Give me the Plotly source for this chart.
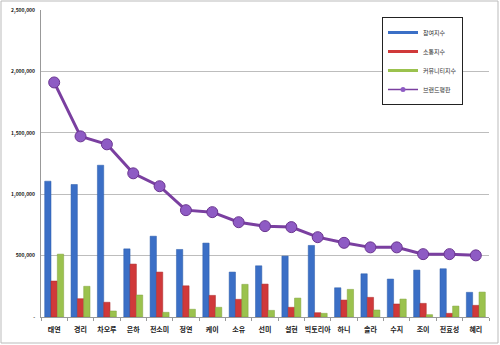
import plotly.graph_objects as go

categories = ["태연", "경리", "차오루", "은하", "전소미", "정연", "케이", "소유", "선미",
              "설현", "빅토리아", "하니", "솔라", "수지", "조이", "전효성", "혜리"]
participation = [1106000, 1079000, 1236000, 555000, 658000, 550000, 602000, 366000, 417000,
                 496000, 583000, 238000, 352000, 309000, 382000, 393000, 201000]
communication = [293000, 149000, 120000, 431000, 366000, 254000, 176000, 144000, 268000,
                 79000, 35000, 138000, 160000, 106000, 111000, 30000, 95000]
community = [512000, 250000, 49000, 179000, 38000, 63000, 79000, 266000, 54000,
             154000, 30000, 225000, 57000, 146000, 19000, 89000, 203000]
brand = [1910000, 1471000, 1406000, 1170000, 1065000, 870000, 854000, 772000, 740000,
         732000, 650000, 604000, 567000, 567000, 512000, 512000, 502000]
series_names = ["참여지수", "소통지수", "커뮤니티지수", "브랜드평판"]
ytick_vals = [0, 500000, 1000000, 1500000, 2000000, 2500000]
ytick_text = ["-", "500,000", "1,000,000", "1,500,000", "2,000,000", "2,500,000"]

font = "Noto Sans CJK KR"
colors = ["#3B6FC6", "#D0393A", "#9BC24E"]
edges = ["#2A5AA8", "#A82828", "#7FA03A"]
fig = go.Figure()
for vals, nm, c, e in zip([participation, communication, community], series_names[:3], colors, edges):
    fig.add_trace(go.Bar(x=categories, y=vals, name=nm, showlegend=False,
                         marker=dict(color=c, line=dict(color=e, width=0.5))))
fig.add_trace(go.Scatter(x=categories, y=brand, name=series_names[3], mode="lines+markers",
                         showlegend=False,
                         line=dict(color="#7A3FA0", width=3),
                         marker=dict(size=11, color="#8E5BC4", line=dict(color="#6A3590", width=1))))
# legend swatches (Excel-style short lines)
for nm, c in zip(series_names[:3], colors):
    fig.add_trace(go.Scatter(x=[None], y=[None], name=nm, mode="lines",
                             line=dict(color=c, width=3)))
fig.add_trace(go.Scatter(x=[None], y=[None], name=series_names[3], mode="lines+markers",
                         line=dict(color="#7A3FA0", width=1.5),
                         marker=dict(size=5, color="#8E5BC4")))

L, R, T, B = 41, 11, 10, 28
W, H = 500, 345
pw, ph = W - L - R, H - T - B
fig.update_layout(
    width=W, height=H, margin=dict(l=L, r=R, t=T, b=B),
    paper_bgcolor="white", plot_bgcolor="white",
    barmode="group", bargap=0.28, bargroupgap=0.0,
    font=dict(family=font, size=7, color="#222"),
    showlegend=True,
    legend=dict(x=(382 - L) / pw, y=(H - B - 17) / ph, xanchor="left", yanchor="top",
                bgcolor="white", bordercolor="#222", borderwidth=1,
                font=dict(size=6, color="#333"), itemwidth=30),
    xaxis=dict(range=[-0.5, len(categories) - 0.5],
               showgrid=False, showline=True, linecolor="#999", linewidth=1,
               ticks="outside", tickson="boundaries", ticklen=3, tickcolor="#999",
               tickangle=0, automargin=False, ticklabelstandoff=6,
               tickfont=dict(size=7, color="#222", weight="bold")),
    yaxis=dict(range=[0, 2500000], tickvals=ytick_vals, ticktext=ytick_text,
               showgrid=True, gridcolor="#BDBDBD", gridwidth=1, showline=True,
               linecolor="#999", zeroline=False,
               tickfont=dict(size=5, color="#111", weight="bold"),
               ticks="", ticklabelstandoff=4, automargin=False),
    shapes=[dict(type="rect", xref="paper", yref="paper",
                 x0=(1 - L) / pw, x1=(W - 2 - L) / pw,
                 y0=(-(B - 2)) / ph, y1=(ph + T - 1) / ph,
                 line=dict(color="#BBBBBB", width=1), layer="below")],
)
fig.write_html("out.html")
